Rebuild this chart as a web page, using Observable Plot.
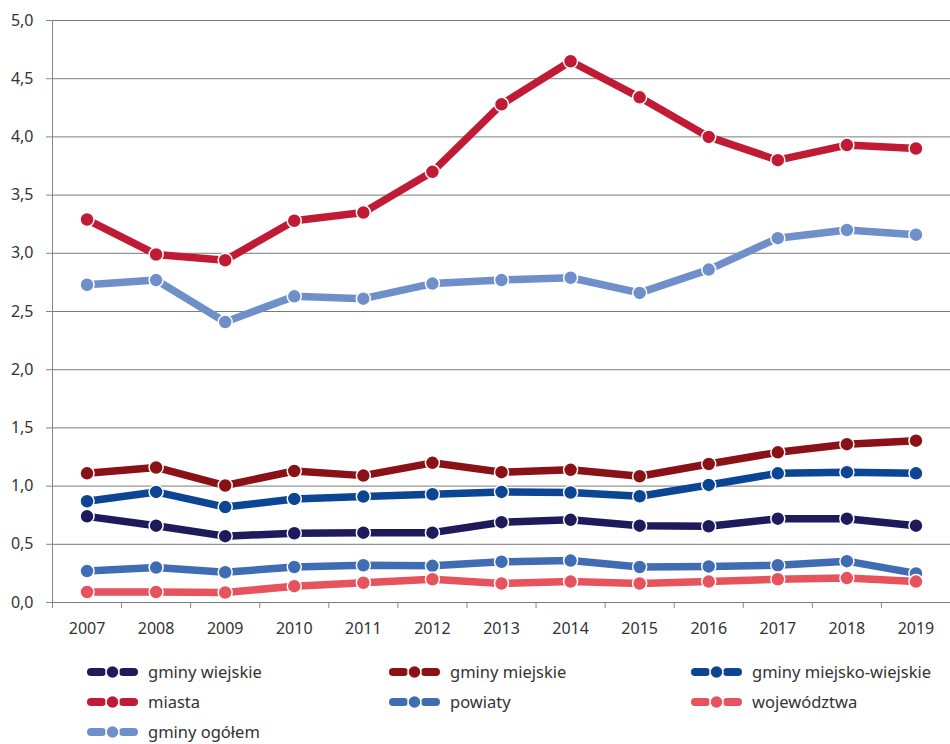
<!DOCTYPE html>
<html><head><meta charset="utf-8">
<script src="https://cdn.jsdelivr.net/npm/d3@7"></script>
<script src="https://cdn.jsdelivr.net/npm/@observablehq/plot@0.6"></script>
<style>
body{margin:0;background:#fff;font-family:"Noto Sans",sans-serif;}
#chart svg{display:block;}
#legend{display:grid;grid-template-columns:302px 302px 260px;margin-left:87px;margin-top:20px;row-gap:7px;}
.item{display:flex;align-items:center;height:23px;font-size:16.5px;line-height:20px;color:#333;white-space:nowrap;}
.item svg{margin-right:10px;flex:none;}
</style>
</head><body><div id="chart"></div><div id="legend"></div>
<script>
const years=[2007,2008,2009,2010,2011,2012,2013,2014,2015,2016,2017,2018,2019];
const gminyWiejskie=[0.74,0.66,0.57,0.595,0.60,0.60,0.69,0.71,0.66,0.655,0.72,0.72,0.66];
const gminyMiejskie=[1.11,1.16,1.005,1.13,1.09,1.20,1.12,1.14,1.085,1.19,1.29,1.36,1.39];
const gminyMiejskoWiejskie=[0.87,0.95,0.82,0.89,0.91,0.93,0.95,0.945,0.913,1.01,1.11,1.12,1.11];
const miasta=[3.29,2.99,2.94,3.28,3.35,3.70,4.28,4.65,4.34,4.00,3.80,3.93,3.90];
const powiaty=[0.27,0.30,0.26,0.305,0.32,0.315,0.35,0.36,0.305,0.31,0.32,0.355,0.25];
const wojewodztwa=[0.09,0.09,0.086,0.14,0.17,0.20,0.163,0.18,0.163,0.18,0.20,0.21,0.18];
const gminyOgolem=[2.73,2.77,2.41,2.63,2.61,2.74,2.77,2.79,2.66,2.86,3.13,3.20,3.16];
const seriesNames=["gminy wiejskie","gminy miejskie","gminy miejsko-wiejskie","miasta","powiaty","województwa","gminy ogółem"];
const seriesValues=[gminyWiejskie,gminyMiejskie,gminyMiejskoWiejskie,miasta,powiaty,wojewodztwa,gminyOgolem];
const seriesColors=["#1f1a5c","#8a1116","#0b4593","#c01a34","#3f6cb3","#e6535c","#6f8fcb"];
const yTicks=[0,0.5,1,1.5,2,2.5,3,3.5,4,4.5,5];

const boundaries=[years[0]-0.5,...years.slice(0,-1).map(y=>y+0.5)];
const seriesMarks=[];
seriesNames.forEach((name,i)=>{
  const data=years.map((y,j)=>({year:y,value:seriesValues[i][j]}));
  seriesMarks.push(Plot.line(data,{x:"year",y:"value",stroke:seriesColors[i],strokeWidth:7.5,strokeLinejoin:"round"}));
  seriesMarks.push(Plot.dot(data,{x:"year",y:"value",fill:seriesColors[i],stroke:"white",strokeWidth:1.5,r:7}));
});

const chart=Plot.plot({
  width:950,height:640,
  marginTop:20,marginBottom:38,marginLeft:52,marginRight:0,
  style:{fontFamily:"'Noto Sans',sans-serif",fontSize:"16px",color:"#333",background:"white"},
  x:{type:"linear",domain:[years[0]-0.5,years[years.length-1]+0.5]},
  y:{domain:[0,5]},
  marks:[
    Plot.gridY(yTicks,{stroke:"#7a7a7a",strokeOpacity:1}),
    Plot.frame({anchor:"left",stroke:"#888"}),
    Plot.axisY(yTicks,{tickSize:6,tickPadding:13,tickFormat:d=>d.toFixed(1).replace(".",","),stroke:"#888",fill:"#333",fontSize:16,label:null}),
    Plot.axisX(years,{tickSize:0,tickPadding:20,tickFormat:d=>String(d),fill:"#333",fontSize:16,label:null}),
    Plot.axisX(boundaries,{tickSize:6,tickFormat:()=>"",stroke:"#888",label:null}),
    ...seriesMarks
  ]
});
document.getElementById("chart").appendChild(chart);

const legend=document.getElementById("legend");
seriesNames.forEach((name,i)=>{
  const c=seriesColors[i];
  const div=document.createElement("div");
  div.className="item";
  div.innerHTML=`<svg width="51" height="16" viewBox="0 0 51 16"><rect x="0" y="4" width="19" height="8" rx="4" fill="${c}"/><rect x="32" y="4" width="19" height="8" rx="4" fill="${c}"/><circle cx="25.5" cy="8" r="6.5" fill="${c}" stroke="white" stroke-width="1.5"/></svg><span>${name}</span>`;
  legend.appendChild(div);
});
</script>
</body></html>
